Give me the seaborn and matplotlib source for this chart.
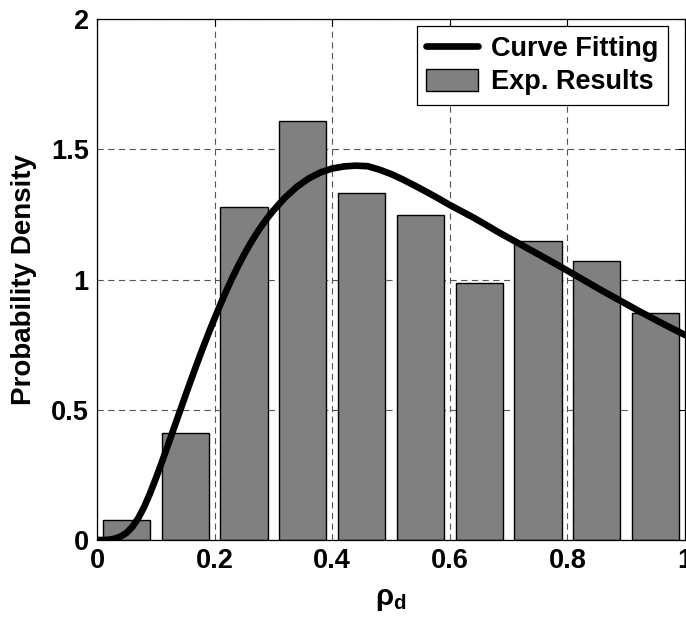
import matplotlib
matplotlib.use("Agg")
import matplotlib.pyplot as plt
import seaborn as sns
import pandas as pd

# ---- data ----
bin_centers = [0.05, 0.15, 0.25, 0.35, 0.45, 0.55, 0.65, 0.75, 0.85, 0.95]
exp_density = [0.077, 0.41, 1.277, 1.608, 1.333, 1.248, 0.988, 1.147, 1.072, 0.873]

curve_x = [0.00, 0.01, 0.02, 0.03, 0.04, 0.05, 0.06, 0.07, 0.08, 0.09,
           0.10, 0.11, 0.12, 0.13, 0.14, 0.15, 0.16, 0.17, 0.18, 0.19,
           0.20, 0.21, 0.22, 0.23, 0.24, 0.25, 0.26, 0.27, 0.28, 0.29,
           0.30, 0.32, 0.34, 0.36, 0.38, 0.40, 0.42, 0.44, 0.46, 0.48,
           0.50, 0.52, 0.54, 0.56, 0.58, 0.60, 0.62, 0.64, 0.66, 0.68,
           0.70, 0.72, 0.74, 0.76, 0.78, 0.80, 0.82, 0.84, 0.86, 0.88,
           0.90, 0.92, 0.94, 0.96, 0.98, 1.00]
curve_y = [0.000, 0.000, 0.001, 0.005, 0.013, 0.027, 0.050, 0.083, 0.126, 0.178,
           0.236, 0.297, 0.360, 0.424, 0.488, 0.552, 0.615, 0.677, 0.737, 0.795,
           0.851, 0.905, 0.957, 1.006, 1.052, 1.095, 1.135, 1.172, 1.206, 1.237,
           1.265, 1.315, 1.356, 1.388, 1.411, 1.426, 1.434, 1.437, 1.435, 1.422,
           1.405, 1.384, 1.361, 1.337, 1.312, 1.286, 1.262, 1.238, 1.212, 1.185,
           1.160, 1.135, 1.110, 1.085, 1.060, 1.034, 1.008, 0.982, 0.956, 0.931,
           0.906, 0.881, 0.857, 0.833, 0.810, 0.787]

x_ticks = [0, 0.2, 0.4, 0.6, 0.8, 1.0]
x_tick_labels = ["0", "0.2", "0.4", "0.6", "0.8", "1"]
y_ticks = [0, 0.5, 1.0, 1.5, 2.0]
y_tick_labels = ["0", "0.5", "1", "1.5", "2"]

sns.set_theme(style="white")
plt.rcParams["font.family"] = ["Liberation Sans", "DejaVu Sans"]
plt.rcParams["font.weight"] = "bold"
plt.rcParams["text.color"] = "black"
plt.rcParams["axes.labelcolor"] = "black"
plt.rcParams["xtick.color"] = "black"
plt.rcParams["ytick.color"] = "black"
plt.rcParams["mathtext.fontset"] = "custom"
plt.rcParams["mathtext.rm"] = "Liberation Sans"
plt.rcParams["mathtext.it"] = "Liberation Sans"
plt.rcParams["mathtext.bf"] = "Liberation Sans:bold"
plt.rcParams["lines.scale_dashes"] = False

bars_df = pd.DataFrame({"x": bin_centers, "y": exp_density})
curve_df = pd.DataFrame({"x": curve_x, "y": curve_y})

fig = plt.figure(figsize=(6.86, 6.20), dpi=100)
ax = fig.add_axes([97 / 686, 80 / 620, 588 / 686, 521 / 620])

sns.barplot(data=bars_df, x="x", y="y", native_scale=True, width=0.8,
            color="#808080", saturation=1, edgecolor="black", linewidth=1.0,
            errorbar=None, label="Exp. Results", ax=ax, zorder=2)
sns.lineplot(data=curve_df, x="x", y="y", color="black", linewidth=4.8,
             label="Curve Fitting", ax=ax, zorder=3, sort=False)

ax.set_xlim(0, 1)
ax.set_ylim(0, 2)
ax.set_xticks(x_ticks)
ax.set_xticklabels(x_tick_labels)
ax.set_yticks(y_ticks)
ax.set_yticklabels(y_tick_labels)
ax.tick_params(direction="in", length=5, width=0.8, top=True, right=True,
               labelsize=19.5, pad=6, colors="black")
for lab in ax.get_xticklabels() + ax.get_yticklabels():
    lab.set_fontweight("bold")

ax.set_axisbelow(True)
ax.grid(True, color="#555555", linestyle=(0, (4.5, 3.2)), linewidth=0.8)
for sp in ax.spines.values():
    sp.set_visible(True)
    sp.set_color("black")
    sp.set_linewidth(0.9)

ax.set_xlabel(r"$\mathrm{\rho}_\mathbf{d}$", fontsize=21, labelpad=8)
ax.set_ylabel("Probability Density", fontsize=20, fontweight="bold", labelpad=10)

handles, labels = ax.get_legend_handles_labels()
order = [labels.index("Curve Fitting"), labels.index("Exp. Results")]
leg = ax.legend([handles[i] for i in order], [labels[i] for i in order],
                loc="upper right", bbox_to_anchor=(0.971, 0.987),
                borderaxespad=0, fontsize=19.5, frameon=True, fancybox=False,
                edgecolor="black", framealpha=1, handlelength=1.9,
                handleheight=0.9, handletextpad=0.5, labelspacing=0.25,
                borderpad=0.35)
leg.get_frame().set_linewidth(0.9)
for t in leg.get_texts():
    t.set_fontweight("bold")

fig.savefig("out.png", dpi=100)
